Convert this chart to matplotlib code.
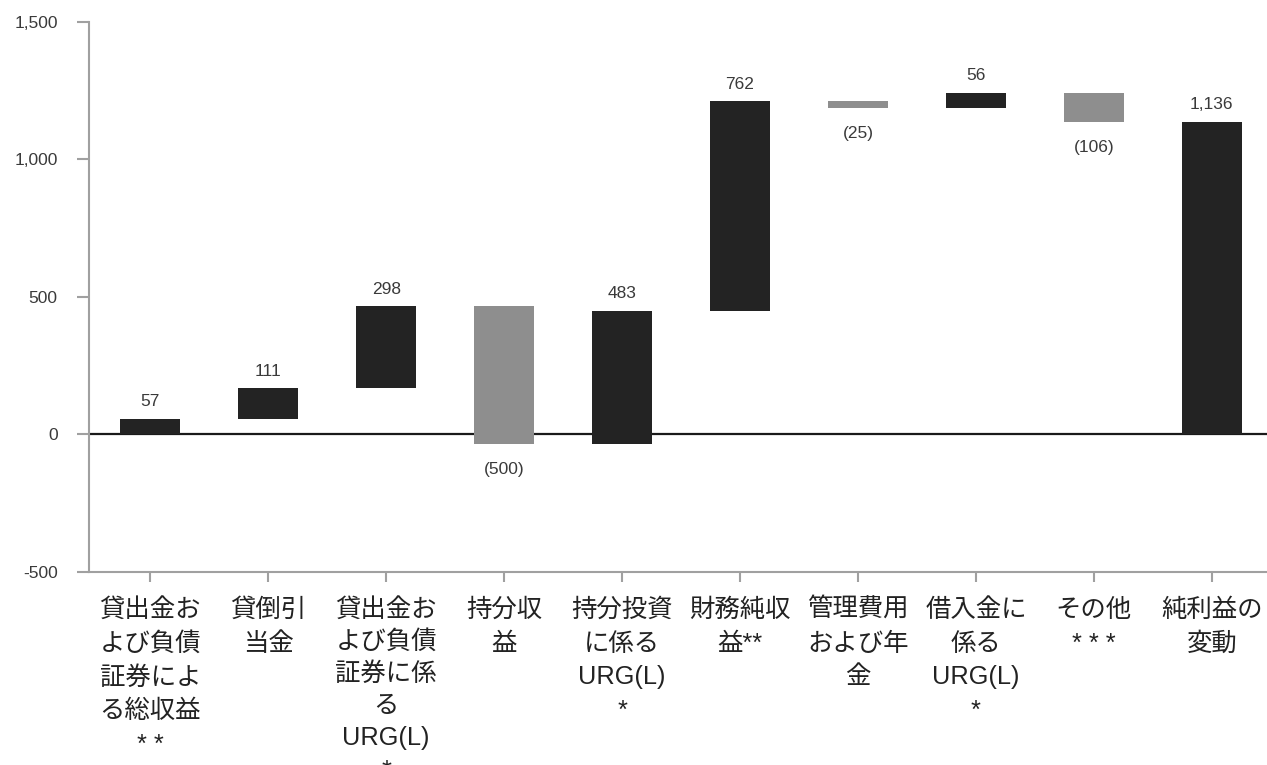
import numpy as np
import matplotlib
matplotlib.use('Agg')
import matplotlib.pyplot as plt
from matplotlib.ticker import FuncFormatter

plt.rcParams['font.family'] = ['Liberation Sans', 'Noto Sans CJK JP', 'DejaVu Sans']

# change in net income by component (millions)
categories = [
    '貸出金お\nよび負債\n証券によ\nる総収益\n* *',
    '貸倒引\n当金',
    '貸出金お\nよび負債\n証券に係\nる\nURG(L)\n*',
    '持分収\n益',
    '持分投資\nに係る\nURG(L)\n*',
    '財務純収\n益**',
    '管理費用\nおよび年\n金',
    '借入金に\n係る\nURG(L)\n*',
    'その他\n* * *',
    '純利益の\n変動',
]
changes = [57, 111, 298, -500, 483, 762, -25, 56, -106]
total = 1136

dark = '#232323'
grey = '#8e8e8e'
axis_grey = '#a0a0a0'
text_col = '#3a3a3a'


def fmt_value(v):
    s = f'{abs(v):,}'
    return f'({s})' if v < 0 else s


# waterfall geometry
ends = np.cumsum(changes)
starts = np.concatenate([[0], ends[:-1]])
bottoms = list(starts) + [0]
heights = list(changes) + [total]
values = list(changes) + [total]
colors = [dark if v >= 0 else grey for v in values]
x = np.arange(len(categories))

fig = plt.figure(figsize=(12.67, 7.65), dpi=100)
ax = fig.add_axes([0.0702, 0.2523, 0.93, 0.719])

ax.bar(x, heights, bottom=bottoms, width=0.51, color=colors, zorder=3)
ax.axhline(0, color='#1a1a1a', lw=1.6, zorder=2)

for xi, b, h, v in zip(x, bottoms, heights, values):
    if v >= 0:
        ax.annotate(fmt_value(v), (xi, b + h), xytext=(0, 7), textcoords='offset points',
                    ha='center', va='bottom', fontsize=12.5, color=text_col)
    else:
        ax.annotate(fmt_value(v), (xi, b + h), xytext=(0, -13), textcoords='offset points',
                    ha='center', va='top', fontsize=12.5, color=text_col)

ax.set_ylim(-500, 1500)
ax.set_xlim(-0.52, 9.47)
ax.set_yticks([-500, 0, 500, 1000, 1500])
ax.yaxis.set_major_formatter(FuncFormatter(lambda v, p: f'{int(v):,}'))
ax.set_xticks(x)
labels = ax.set_xticklabels(categories, fontsize=18.3, linespacing=1.52, va='top',
                            color='#222222')
# the six-line label runs off the bottom; tighten it a little so the last line peeks in
labels[2].set_linespacing(1.43)

for side in ['top', 'right']:
    ax.spines[side].set_visible(False)
for side in ['left', 'bottom']:
    ax.spines[side].set_color(axis_grey)
    ax.spines[side].set_linewidth(1.5)

ax.tick_params(axis='y', length=8.5, width=1.5, color=axis_grey, labelsize=12.5,
               labelcolor=text_col, pad=14)
ax.tick_params(axis='x', length=7.5, width=1.5, color=axis_grey, pad=11)

fig.savefig('out.png', dpi=100)
